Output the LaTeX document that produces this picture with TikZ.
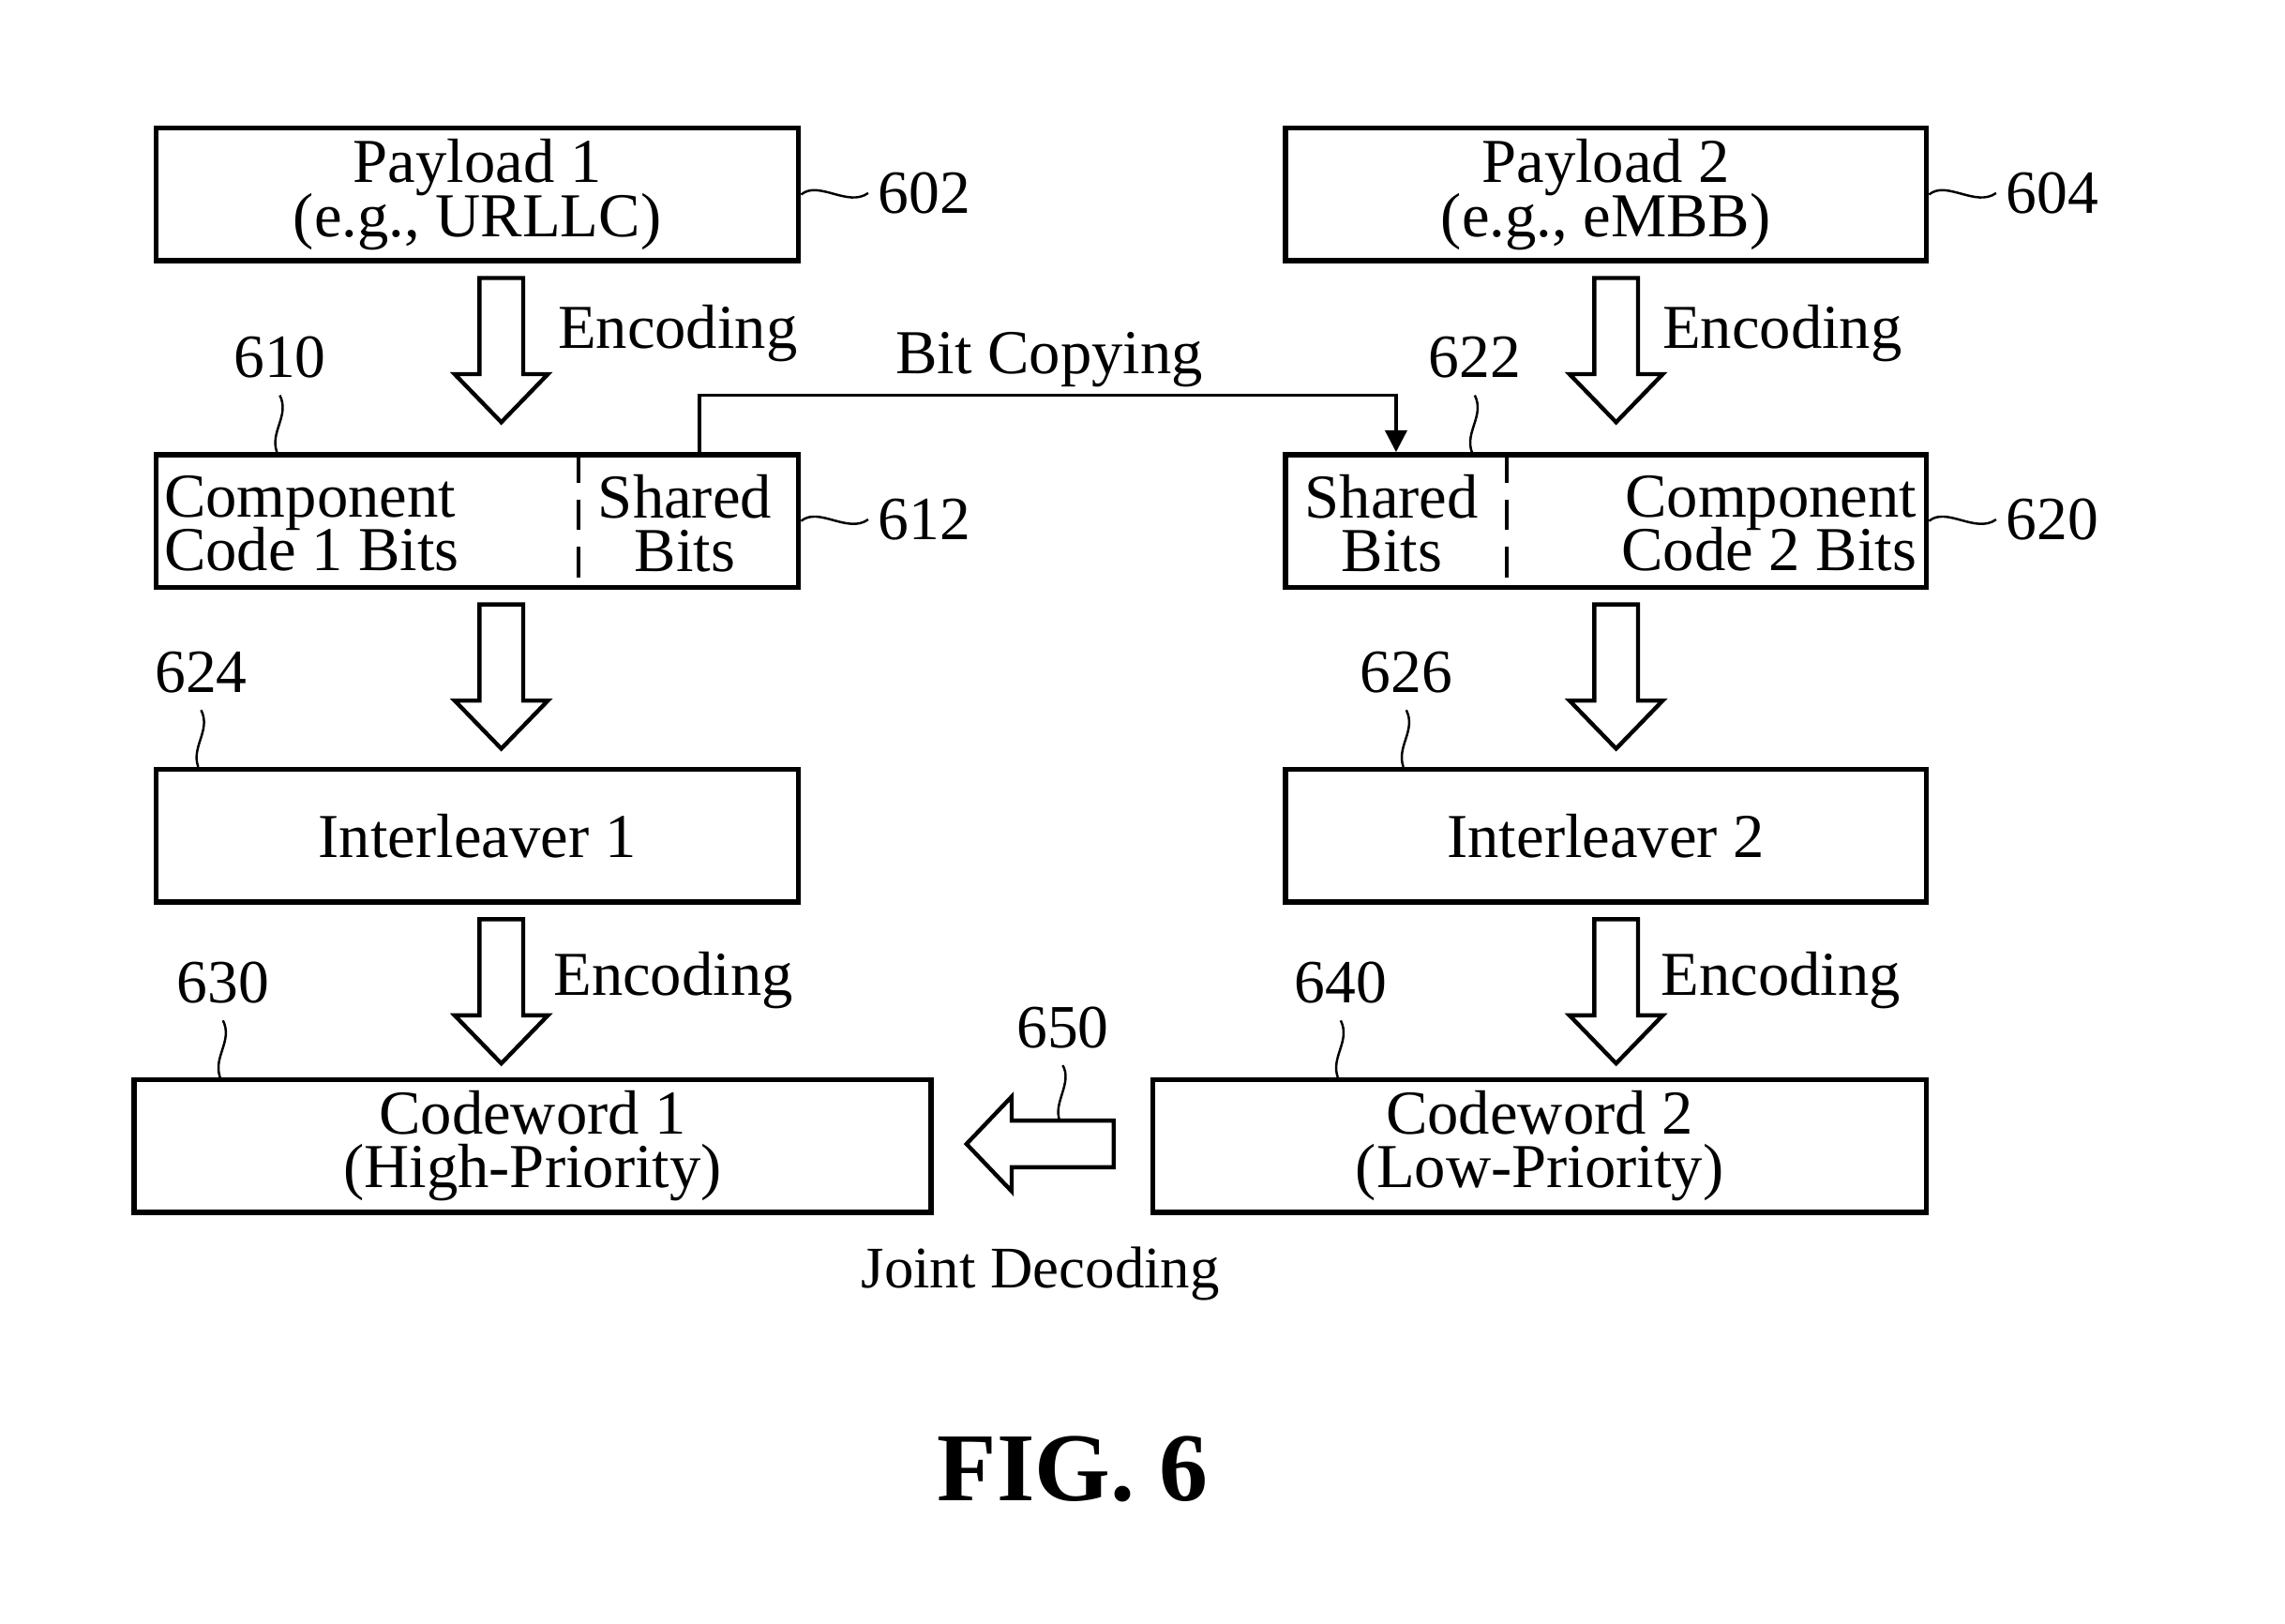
\documentclass[tikz,border=0pt]{standalone}
\usepackage{fontspec}
\setmainfont{Liberation Serif}
\usetikzlibrary{arrows.meta,positioning,calc}
\newcommand{\figtext}{\fontsize{12.2}{10.5}\selectfont\lineskiplimit=-10pt}
\newcommand{\reftext}{\fontsize{12}{12}\selectfont}
\tikzset{
  block/.style={draw, line width=1pt, minimum height=9.1mm, inner sep=0pt, align=center, font=\figtext},
  txt/.style={inner sep=0pt, font=\figtext},
  refnum/.style={inner sep=0pt, font=\reftext},
  leader/.style={line width=0.45pt},
  hollow/.style={draw, line width=0.8pt, line join=miter, fill=white},
  divider/.style={line width=0.7pt, dash pattern=on 2.1mm off 1.15mm}
}

\begin{document}
\begin{tikzpicture}[x=0.1mm, y=-0.1mm]
\useasboundingbox (0,0) rectangle (1568,1114);

% Blocks
\node[block, minimum width=44.1mm] (pay1) at (327.5,133.5) {Payload 1\\(e.g., URLLC)};
\node[block, minimum width=44.0mm] (pay2) at (1102,133.5) {Payload 2\\(e.g., eMBB)};
\node[block, minimum width=44.1mm] (comp1) at (327.5,357.5) {};
\node[block, minimum width=44.0mm] (comp2) at (1102,357.5) {};
\node[block, minimum width=44.1mm] (int1) at (327.5,573.5) {Interleaver 1};
\node[block, minimum width=44.0mm] (int2) at (1102,573.5) {Interleaver 2};
\node[block, minimum width=54.7mm] (cw1) at (365.5,786.5) {Codeword 1\\(High-Priority)};
\node[block, minimum width=53.1mm] (cw2) at (1056.5,786.5) {Codeword 2\\(Low-Priority)};

% Split component blocks
\draw[divider] (397,0 |- comp1.north) -- (397,0 |- comp1.south);
\draw[divider] (1034,0 |- comp2.north) -- (1034,0 |- comp2.south);
\node[txt, anchor=west, align=left] (code1) at (112,359) {Component\\Code 1 Bits};
\node[txt, align=center] (shared1) at (470,359) {Shared\\Bits};
\node[txt, align=center] (shared2) at (955,359) {Shared\\Bits};
\node[txt, anchor=east, align=right] (code2) at (1316,359) {Component\\Code 2 Bits};

% Hollow block arrows
\foreach \a/\x in {pay1/344, pay2/1109, comp1/344, comp2/1109, int1/344, int2/1109} {
  \draw[hollow, shift={(\x,0 |- \a.south)}] (-15,10) -- (15,10) -- (15,76) -- (32,76) -- (0,109) -- (-32,76) -- (-15,76) -- cycle;
}
\node[txt] (enc1) at (465,229) {Encoding};
\node[txt] (enc2) at (1223,229) {Encoding};
\node[txt] (enc3) at (462,673) {Encoding};
\node[txt] (enc4) at (1222,673) {Encoding};

% Joint decoding
\draw[hollow, shift={(cw2.west)}] (-25,-17.5) -- (-25,14.5) -- (-95,14.5) -- (-95,31) -- (-126,-1.5) -- (-95,-34) -- (-95,-17.5) -- cycle;
\coordinate (jd) at ($(cw2.west)+(-62,-17.5)$);
\node[txt, font=\fontsize{11.5}{12}\selectfont] (jdtext) at (714,874) {Joint Decoding};

% Bit copying
\coordinate (bitsrc) at (480,0 |- comp1.north);
\coordinate (bitdst) at (958,0 |- comp2.north);
\draw[line width=0.6pt, -{Triangle[length=1.5mm, width=1.5mm]}] (bitsrc) -- ++(0,-39) -| (bitdst);
\node[txt] (bitcopy) at (720,247) {Bit Copying};

% Reference numerals
\foreach \b/\t in {pay1/602, pay2/604, comp1/612, comp2/620} {
  \draw[leader] (\b.east) .. controls +(12,-10) and +(-14,10) .. ++(46,-1) node[refnum, right=0.6mm] (n\t) {\t};
}
\foreach \t/\x/\b in {610/190/comp1, 622/1010/comp2, 624/136/int1, 626/963/int2, 630/151/cw1, 640/918/cw2} {
  \draw[leader] (\x,0 |- \b.north) .. controls +(-5,-14) and +(7,14) .. ++(2,-39) node[refnum, above=1.1mm] (n\t) {\t};
}
\draw[leader] (jd) .. controls +(-5,-12) and +(7,12) .. ++(2,-38) node[refnum, above=1.1mm] (n650) {650};

\node[inner sep=0pt, font=\fontsize{19}{20}\selectfont\bfseries] (fig) at (736,1008) {FIG. 6};
\end{tikzpicture}
\end{document}
